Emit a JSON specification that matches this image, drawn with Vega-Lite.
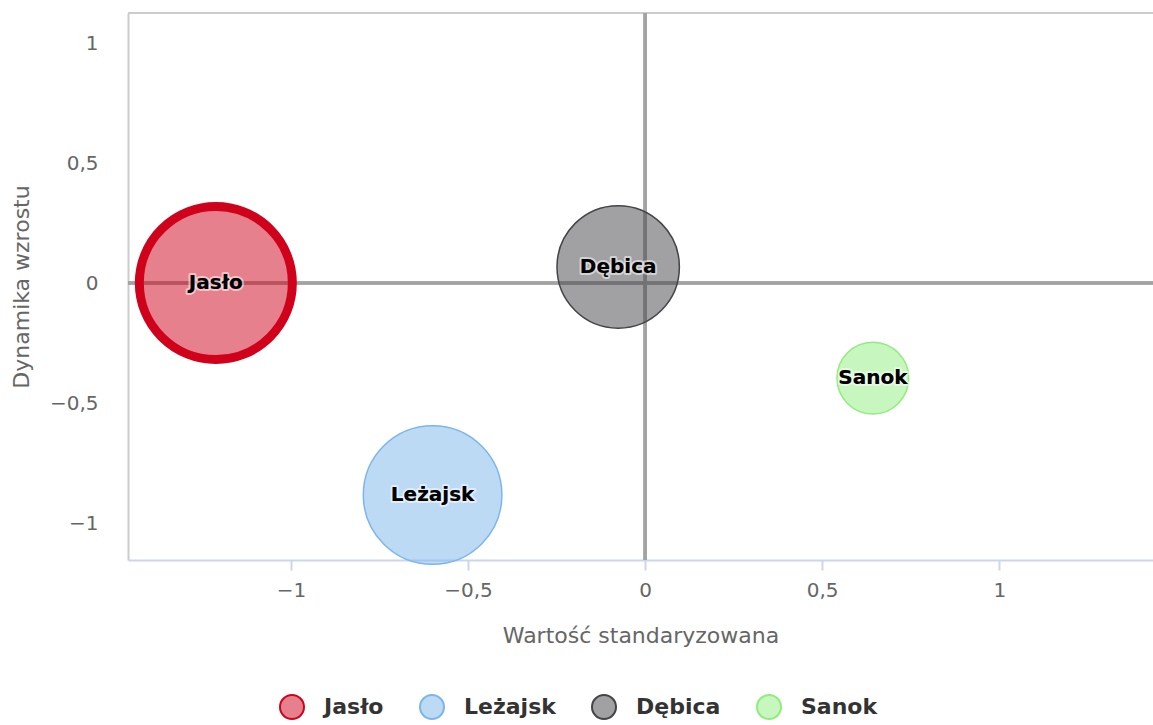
{
  "$schema": "https://vega.github.io/schema/vega-lite/v6.json",
  "autosize": "none",
  "padding": {"left": 128, "top": 13, "right": 0, "bottom": 165},
  "width": 1025,
  "height": 547,
  "config": {
    "font": "DejaVu Sans",
    "view": {"stroke": null}
  },
  "data": {
    "values": [
      {"name": "Jasło", "x": -1.212, "y": 0.0, "z": 100},
      {"name": "Leżajsk", "x": -0.6, "y": -0.883, "z": 82},
      {"name": "Dębica", "x": -0.076, "y": 0.067, "z": 64},
      {"name": "Sanok", "x": 0.643, "y": -0.396, "z": 22}
    ]
  },
  "layer": [
    {
      "mark": {"type": "rule", "color": "#cccccc", "strokeWidth": 2},
      "encoding": {"y": {"datum": 1.125, "type": "quantitative"}}
    },
    {
      "mark": {"type": "rule", "color": "#a3a3a3", "strokeWidth": 3},
      "encoding": {"y": {"datum": 0, "type": "quantitative"}}
    },
    {
      "mark": {"type": "rule", "color": "#a3a3a3", "strokeWidth": 3},
      "encoding": {"x": {"datum": 0, "type": "quantitative"}}
    },
    {
      "encoding": {
        "x": {
          "field": "x", "type": "quantitative",
          "scale": {"domain": [-1.46, 1.434], "nice": false, "zero": false},
          "axis": {
            "values": [-1, -0.5, 0, 0.5, 1],
            "format": ".1~f",
            "labelExpr": "replace(datum.label, '.', ',')",
            "grid": false,
            "domainColor": "#ccd6eb", "domainWidth": 2,
            "tickColor": "#ccd6eb", "tickSize": 10, "tickWidth": 2,
            "labelColor": "#666666", "labelFontSize": 20, "labelPadding": 10,
            "title": "Wartość standaryzowana",
            "titleColor": "#666666", "titleFontSize": 22, "titleFontWeight": "normal",
            "titlePadding": 25
          }
        },
        "y": {
          "field": "y", "type": "quantitative",
          "scale": {"domain": [-1.154, 1.125], "nice": false, "zero": false},
          "axis": {
            "values": [-1, -0.5, 0, 0.5, 1],
            "format": ".1~f",
            "labelExpr": "replace(datum.label, '.', ',')",
            "grid": false,
            "ticks": false,
            "domainColor": "#cccccc", "domainWidth": 2,
            "labelColor": "#666666", "labelFontSize": 20, "labelPadding": 30,
            "title": "Dynamika wzrostu",
            "titleColor": "#666666", "titleFontSize": 22, "titleFontWeight": "normal",
            "titlePadding": 16
          }
        }
      },
      "layer": [
        {
          "mark": {"type": "point", "shape": "circle", "filled": true, "fillOpacity": 0.5, "strokeOpacity": 1},
          "encoding": {
            "size": {"field": "z", "type": "quantitative", "scale": {"domain": [0, 100], "range": [0, 23409]}, "legend": null},
            "fill": {
              "field": "name", "type": "nominal",
              "scale": {"domain": ["Jasło", "Leżajsk", "Dębica", "Sanok"], "range": ["#d0021b", "#7cb5ec", "#434348", "#90ed7d"]},
              "legend": {
                "title": null, "orient": "none", "direction": "horizontal",
                "legendX": 151, "legendY": 681, "padding": 0,
                "symbolType": "circle", "symbolSize": 576, "symbolStrokeWidth": 2, "symbolOpacity": 1,
                "labelFontSize": 22, "labelFontWeight": "bold", "labelColor": "#333333",
                "labelOffset": 19, "columnPadding": 32,
                "encode": {"symbols": {"update": {"fillOpacity": {"value": 0.5}, "strokeWidth": {"value": 2}}}}
              }
            },
            "stroke": {
              "field": "name", "type": "nominal",
              "scale": {"domain": ["Jasło", "Leżajsk", "Dębica", "Sanok"], "range": ["#d0021b", "#7cb5ec", "#434348", "#90ed7d"]}
            },
            "strokeWidth": {"condition": {"test": "datum.name === 'Jasło'", "value": 9}, "value": 1.5}
          }
        },
        {
          "mark": {"type": "text", "fontSize": 20, "fontWeight": "bold", "stroke": "#ffffff", "strokeWidth": 4, "strokeOpacity": 0.55, "strokeJoin": "round", "fill": "#000000"},
          "encoding": {"text": {"field": "name"}}
        },
        {
          "mark": {"type": "text", "fontSize": 20, "fontWeight": "bold", "fill": "#000000"},
          "encoding": {"text": {"field": "name"}}
        }
      ]
    }
  ]
}
